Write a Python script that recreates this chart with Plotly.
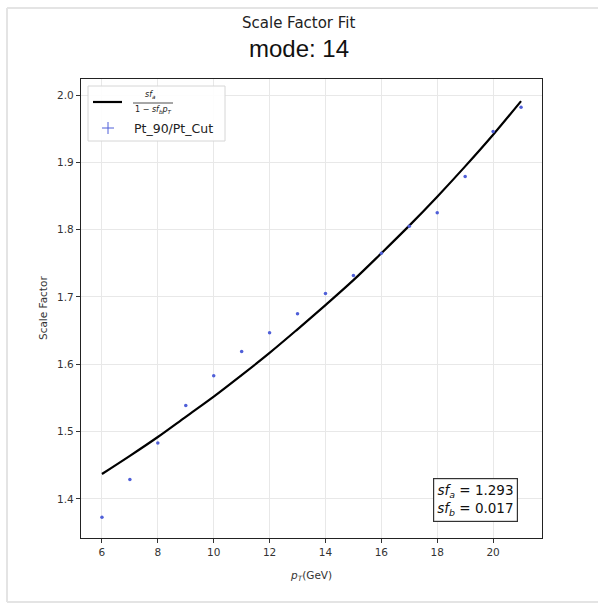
import plotly.graph_objects as go

# Data
pt = [6, 7, 8, 9, 10, 11, 12, 13, 14, 15, 16, 17, 18, 19, 20, 21]
sf_data = [1.373, 1.429, 1.483, 1.539, 1.583, 1.619, 1.647, 1.675, 1.705,
           1.732, 1.765, 1.805, 1.825, 1.879, 1.946, 1.982]
# Fitted curve values (sf_a / (1 - sf_b * pT)) read at each pT
sf_fit = [1.437, 1.464, 1.492, 1.522, 1.552, 1.584, 1.617, 1.652, 1.688,
          1.725, 1.765, 1.806, 1.849, 1.894, 1.941, 1.991]
x_ticks = [6, 8, 10, 12, 14, 16, 18, 20]
y_ticks = [1.4, 1.5, 1.6, 1.7, 1.8, 1.9, 2.0]
sf_a_txt = "1.293"
sf_b_txt = "0.017"

W, H = 598, 603
L, R, T, B = 81, 56, 79, 65
pw, ph = W - L - R, H - T - B

def px(x):
    return (x - L) / pw

def py(y):
    return (H - B - y) / ph

fig = go.Figure()
fig.add_trace(go.Scatter(x=pt, y=sf_fit, mode="lines", line=dict(color="black", width=2.2, shape="spline"),
                         showlegend=False, hoverinfo="skip"))
fig.add_trace(go.Scatter(x=pt, y=sf_data, mode="markers",
                         marker=dict(color="#4f5fd8", size=3.5, symbol="circle"),
                         showlegend=False))

font_dv = "DejaVu Sans"
axis_common = dict(showline=True, linecolor="#222", linewidth=1.2, mirror=True,
                   ticks="outside", ticklen=4, tickcolor="#333", tickwidth=1,
                   showgrid=True, gridcolor="#e8e8e8", gridwidth=1, zeroline=False,
                   tickfont=dict(family=font_dv, size=10.5, color="#333"))

fig.update_xaxes(range=[5.25, 21.75], tickvals=x_ticks, **axis_common)
fig.update_yaxes(range=[1.342, 2.0238], tickvals=y_ticks, tickformat=".1f", **axis_common)

shapes = []
annotations = []
# outer frame (left, top, bottom)
frame = dict(color="#e4e4e4", width=2)
shapes.append(dict(type="line", xref="paper", yref="paper", x0=px(7), x1=px(7), y0=py(602), y1=py(8),
                   line=frame, layer="below"))
shapes.append(dict(type="line", xref="paper", yref="paper", x0=px(7), x1=px(598), y0=py(8), y1=py(8),
                   line=frame, layer="below"))
shapes.append(dict(type="line", xref="paper", yref="paper", x0=px(7), x1=px(598), y0=py(602), y1=py(602),
                   line=frame, layer="below"))
# legend box
shapes.append(dict(type="rect", xref="paper", yref="paper", x0=px(88), x1=px(225), y0=py(141), y1=py(86),
                   line=dict(color="#d6d6d6", width=1), fillcolor="rgba(255,255,255,0.9)"))
# legend line sample
shapes.append(dict(type="line", xref="paper", yref="paper", x0=px(93), x1=px(122), y0=py(102), y1=py(102),
                   line=dict(color="black", width=2.2)))
# fraction bar
shapes.append(dict(type="line", xref="paper", yref="paper", x0=px(133), x1=px(173), y0=py(103), y1=py(103),
                   line=dict(color="#222", width=0.8)))
# legend plus marker
shapes.append(dict(type="line", xref="paper", yref="paper", x0=px(102), x1=px(114), y0=py(128), y1=py(128),
                   line=dict(color="#4f5fd8", width=1)))
shapes.append(dict(type="line", xref="paper", yref="paper", x0=px(108), x1=px(108), y0=py(122), y1=py(134),
                   line=dict(color="#4f5fd8", width=1)))

annotations.append(dict(xref="paper", yref="paper", x=px(150), y=py(95), text="<i>sf</i><sub><i>a</i></sub>",
                        showarrow=False, font=dict(family=font_dv, size=8, color="#222"),
                        xanchor="center", yanchor="middle"))
annotations.append(dict(xref="paper", yref="paper", x=px(153), y=py(110),
                        text="1 − <i>sf</i><sub><i>b</i></sub><i>p</i><sub><i>T</i></sub>",
                        showarrow=False, font=dict(family=font_dv, size=8, color="#222"),
                        xanchor="center", yanchor="middle"))
annotations.append(dict(xref="paper", yref="paper", x=px(132), y=py(128), text="Pt_90/Pt_Cut",
                        showarrow=False, font=dict(family=font_dv, size=12.5, color="#222"),
                        xanchor="left", yanchor="middle"))
# fit parameter box
annotations.append(dict(xref="paper", yref="paper", x=px(475.5), y=py(500),
                        text=f"<i>sf</i><sub><i>a</i></sub> = {sf_a_txt}<br><i>sf</i><sub><i>b</i></sub> = {sf_b_txt}",
                        showarrow=False, align="right", font=dict(family=font_dv, size=13.5, color="#111"),
                        bordercolor="#333", borderwidth=1.2, borderpad=3, bgcolor="white",
                        xanchor="center", yanchor="middle"))
# titles
annotations.append(dict(xref="paper", yref="paper", x=px(299), y=py(23), text="Scale Factor Fit",
                        showarrow=False, font=dict(family=font_dv, size=15, color="#222"),
                        xanchor="center", yanchor="middle"))
annotations.append(dict(xref="paper", yref="paper", x=px(299), y=py(48), text="mode: 14",
                        showarrow=False, font=dict(family="Liberation Sans", size=24, color="#111"),
                        xanchor="center", yanchor="middle"))
# axis labels
annotations.append(dict(xref="paper", yref="paper", x=px(311), y=py(576),
                        text="<i>p</i><sub><i>T</i></sub>(GeV)",
                        showarrow=False, font=dict(family=font_dv, size=10.5, color="#333"),
                        xanchor="center", yanchor="middle"))
annotations.append(dict(xref="paper", yref="paper", x=px(43), y=py(308), text="Scale Factor",
                        showarrow=False, textangle=-90, font=dict(family=font_dv, size=10.5, color="#333"),
                        xanchor="center", yanchor="middle"))

fig.update_layout(width=W, height=H, margin=dict(l=L, r=R, t=T, b=B, autoexpand=False),
                  paper_bgcolor="white", plot_bgcolor="white", showlegend=False,
                  shapes=shapes, annotations=annotations)

fig.write_html("out.html")
